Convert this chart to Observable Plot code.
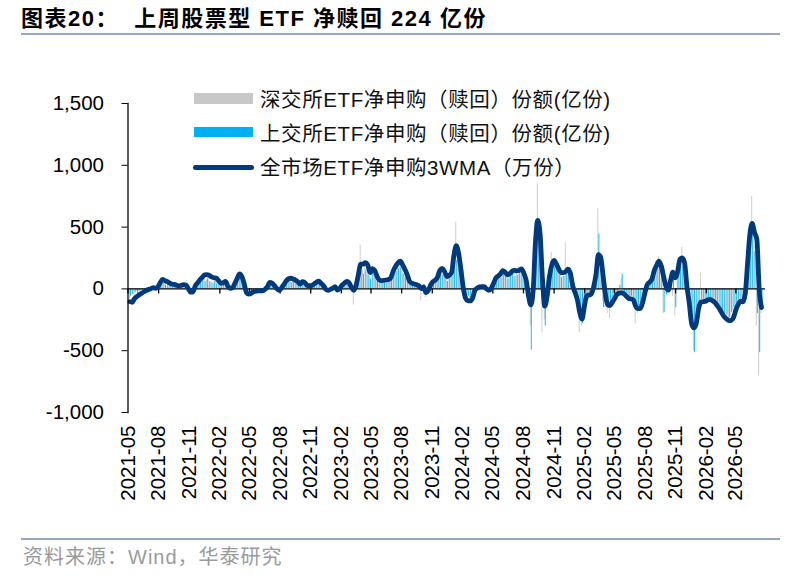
<!DOCTYPE html>
<html><head><meta charset="utf-8">
<script src="https://cdn.jsdelivr.net/npm/d3@7"></script>
<script src="https://cdn.jsdelivr.net/npm/@observablehq/plot@0.6"></script>
<style>
body{margin:0;background:#fff;}
#wrap{position:relative;width:787px;height:578px;overflow:hidden;font-family:"Liberation Sans","Noto Sans CJK SC",sans-serif;background:#fff;}
#chart{position:absolute;left:0;top:0;}
.abs{position:absolute;white-space:nowrap;}
#title{left:21px;top:4px;font-size:22px;font-weight:bold;color:#000;font-family:"Liberation Sans","Noto Sans CJK SC",sans-serif;letter-spacing:1.5px;line-height:30px;}
.rule{left:21px;width:759px;height:2px;background:#95a8c3;}
.sw{position:absolute;}
.lt{position:absolute;left:260px;font-size:20.5px;color:#111;line-height:24px;letter-spacing:0.6px;}
#src{left:23px;top:543px;font-size:20px;color:#9a9a9a;line-height:28px;letter-spacing:1px;}
</style></head><body>
<div id="wrap">
  <div id="chart"></div>
  <div id="title" class="abs">图表20：&nbsp;&nbsp;上周股票型 ETF 净赎回 224 亿份</div>
  <div class="abs rule" style="top:33px"></div>
  <div class="sw" style="left:194px;top:93px;width:59px;height:11px;background:#c8c8c8"></div>
  <div class="sw" style="left:194px;top:127px;width:59px;height:10px;background:#00b0f0"></div>
  <div class="sw" style="left:193px;top:165px;width:61px;height:5px;border-radius:3px;background:#003b7e"></div>
  <div class="lt" style="top:88px">深交所ETF净申购（赎回）份额(亿份)</div>
  <div class="lt" style="top:122px">上交所ETF净申购（赎回）份额(亿份)</div>
  <div class="lt" style="top:156px">全市场ETF净申购3WMA（万份）</div>
  <div class="abs rule" style="top:538px"></div>
  <div id="src" class="abs">资料来源：Wind，华泰研究</div>
</div>
<script>
// weekly series, first week ending 2021-05-07
const firstWeek = "2021-05-07";

// 全市场ETF净申购3WMA（万份）
const wma = [
-103,-108,-78,-61,-48,-35,-23,-13,-5,2,
10,5,16,52,76,67,58,48,38,36,
30,25,29,34,31,3,-26,-25,24,49,
74,94,114,116,109,97,90,87,67,45,
50,60,22,5,9,45,84,121,100,42,
-30,-43,-37,-22,-19,-16,-16,-16,-2,19,
52,45,27,2,-12,8,34,64,82,86,
80,71,58,38,58,52,27,27,27,41,
54,63,45,27,-2,-12,-4,5,19,-9,
2,31,46,60,50,15,-12,27,115,200,
200,212,195,132,164,150,102,72,66,69,
72,76,94,146,183,211,224,193,157,114,
60,46,40,34,25,3,16,-30,-12,30,
58,71,97,151,166,140,100,110,132,270,
350,290,160,10,-75,-95,-97,-75,-12,7,
17,19,19,0,-11,5,44,88,104,123,
148,134,114,123,143,150,147,150,162,128,
70,-55,-130,-16,380,555,440,80,-140,-60,
100,195,230,200,160,132,132,140,160,125,
25,-30,-90,-190,-245,-140,-55,-50,-40,20,
120,278,255,110,-40,-130,-135,-107,-75,-45,
-34,-31,-40,-60,-77,-81,-90,-140,-160,-158,
-110,-30,35,55,80,150,190,225,185,100,
20,-10,70,135,90,140,240,250,210,20,
-115,-280,-315,-280,-160,-107,-104,-100,-88,-84,
-97,-111,-135,-162,-195,-226,-243,-256,-254,-231,
-170,-126,-100,-105,-40,200,440,530,455,402,
0,-151
];

// 深交所ETF净申购（赎回）份额(亿份)
const szse = [
-80,-50,-40,-20,-30,-10,5,-15,10,20,
15,25,40,70,30,50,20,35,10,40,
30,15,20,40,10,-30,-50,-40,45,30,
60,90,100,70,80,60,40,70,50,30,
50,30,-10,20,30,60,90,130,70,10,
-60,-30,-40,-20,-10,-25,-10,-30,20,10,
50,40,10,-20,10,30,50,70,90,60,
80,50,40,30,60,40,20,30,25,50,
60,70,30,20,-30,-20,10,15,30,-20,
20,40,50,70,40,10,-130,50,120,355,
150,200,130,100,160,140,90,80,60,70,
60,80,110,150,190,230,220,160,120,80,
50,60,30,40,20,-97,40,-70,-20,50,
60,80,110,160,140,110,80,100,140,250,
540,230,120,-50,-100,-90,-110,-60,-20,15,
20,25,20,-20,-15,20,60,90,110,130,
170,130,110,140,160,150,160,180,150,120,
60,-120,-300,-60,420,850,350,-355,-250,60,
150,294,200,170,130,110,120,375,180,110,
30,-80,-150,-354,-300,-120,-60,-90,-40,80,
220,650,250,-100,-150,-200,-240,-130,-100,-60,
-40,90,-60,-70,-100,-90,-130,-284,-200,-170,
-90,-20,60,80,110,170,220,260,200,-200,
-20,80,130,-60,-219,170,250,335,160,-40,
-150,-300,-500,-250,-150,127,-120,-110,-90,-100,
-120,-140,-160,-190,-220,-245,-240,-250,-230,-180,
-150,-120,-90,-120,80,350,500,748,350,-300,
-705,-200
];

// 上交所ETF净申购（赎回）份额(亿份)
const sse = [
-60,-45,-30,-40,-20,-15,-10,10,-5,15,
20,-10,30,60,45,30,40,20,25,15,
20,10,25,15,30,-20,-35,-10,30,40,
50,70,60,80,55,45,60,40,30,20,
35,40,10,-15,20,40,60,80,55,20,
-40,-25,-20,-10,-15,-5,-20,-10,10,15,
45,30,15,-10,-5,20,30,45,60,50,
55,40,30,20,45,30,15,20,10,35,
40,50,25,15,-20,-10,5,10,20,-15,
10,25,35,45,30,5,-30,40,90,140,
120,150,110,80,130,100,60,50,40,55,
45,60,80,120,140,160,170,120,90,70,
30,40,20,25,15,-20,30,-50,-10,40,
40,55,80,120,110,90,60,85,100,180,
230,160,90,-30,-80,-60,-70,-40,-10,10,
15,20,10,-10,-5,15,40,70,80,90,
120,100,80,110,120,100,110,130,120,90,
40,-90,-495,-40,300,420,250,-150,-300,40,
120,200,180,150,110,90,100,120,140,80,
20,-60,-120,-230,-280,-90,-40,-70,-20,60,
180,443,200,-151,-100,-150,-120,-90,-60,-30,
30,119,-40,-50,-80,-60,-110,-180,-140,-120,
-60,20,50,60,90,140,160,210,120,-192,
-50,60,100,110,-150,130,220,180,120,-60,
-200,-300,-516,-200,-120,-90,-100,-80,-70,-90,
-100,-120,-140,-150,-180,-200,-210,-230,-190,-150,
-120,-90,-80,-100,40,300,400,537,300,-200,
-516,-150
];

const xTickLabels = ["2021-05","2021-08","2021-11","2022-02","2022-05","2022-08","2022-11",
"2023-02","2023-05","2023-08","2023-11","2024-02","2024-05","2024-08","2024-11",
"2025-02","2025-05","2025-08","2025-11","2026-02","2026-05"];
const yTicks = [-1000,-500,0,500,1000,1500];
const xStart = "2021-05-01", xEnd = "2026-07-29";

const parseDay = d3.utcParse("%Y-%m-%d");
const parseMonth = d3.utcParse("%Y-%m");
const w0 = parseDay(firstWeek);
const data = wma.map((v,i)=>({date: d3.utcDay.offset(w0, 7*i), wma: v, sz: szse[i], sh: sse[i]}));
const tickDates = xTickLabels.map(s=>parseMonth(s));

const chart = Plot.plot({
  width: 787, height: 530,
  marginTop: 103, marginBottom: 118, marginLeft: 127.5, marginRight: 22,
  style: {fontFamily: "Liberation Sans, Arial, sans-serif", fontSize: "20.5px", color: "#000", background: "transparent", overflow: "visible"},
  x: {type: "utc", domain: [parseDay(xStart), parseDay(xEnd)]},
  y: {domain: [-1000, 1500]},
  marks: [
    Plot.ruleX(data, {x: "date", y1: 0, y2: "sz", stroke: "#c8c8c8", strokeWidth: 0.9, dx: -0.5}),
    Plot.ruleX(data, {x: "date", y1: 0, y2: "sh", stroke: "#00b0f0", strokeWidth: 0.9, dx: 0.5}),
    Plot.ruleY([0], {stroke: "#000", strokeWidth: 1.3}),
    Plot.ruleX(tickDates, {x: d=>d, y1: 0, y2: 0, insetBottom: -5, stroke: "#000", strokeWidth: 1.3}),
    Plot.line(data, {x: "date", y: "wma", stroke: "#003a7c", strokeWidth: 4.8, curve: "monotone-x", strokeLinejoin: "round", strokeLinecap: "round"}),
    Plot.frame({anchor: "left", stroke: "#000", strokeWidth: 1.3}),
    Plot.axisY({ticks: yTicks, tickFormat: d=>d.toLocaleString("en-US"), tickSize: 6, tickPadding: 18}),
    Plot.axisX({ticks: tickDates, tickFormat: d3.utcFormat("%Y-%m"), tickRotate: -90, tickSize: 0, tickPadding: 13})
  ]
});
document.getElementById("chart").appendChild(chart);
</script>
</body></html>
